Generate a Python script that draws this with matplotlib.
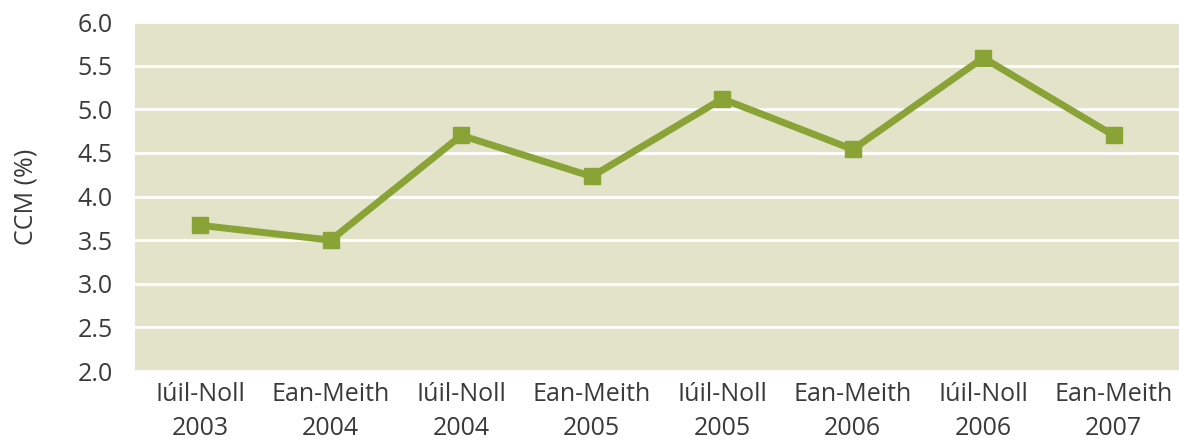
import matplotlib.pyplot as plt
import numpy as np

periods = ['Iúil-Noll\n2003', 'Ean-Meith\n2004', 'Iúil-Noll\n2004', 'Ean-Meith\n2005',
           'Iúil-Noll\n2005', 'Ean-Meith\n2006', 'Iúil-Noll\n2006', 'Ean-Meith\n2007']
ccm = [3.67, 3.50, 4.70, 4.23, 5.12, 4.54, 5.59, 4.70]
yticks = [2.0, 2.5, 3.0, 3.5, 4.0, 4.5, 5.0, 5.5, 6.0]

plt.rcParams['font.family'] = ['Open Sans', 'DejaVu Sans']
text_col = '#3a3a3a'

fig = plt.figure(figsize=(11.79, 4.41), dpi=100)
ax = fig.add_axes([0.1145, 0.1587, 0.8855, 0.7913])
ax.set_facecolor('#e3e3c9')

x = np.arange(len(periods))
ax.plot(x, ccm, color='#8aa337', linewidth=5, marker='s', markersize=11.5, zorder=3)

ax.set_xlim(-0.5, len(periods) - 0.5)
ax.set_ylim(2.0, 6.0)
ax.set_yticks(yticks)
ax.set_yticklabels(['%.1f' % v for v in yticks])
ax.set_xticks(x)
ax.set_xticklabels(periods, linespacing=1.45)
ax.yaxis.grid(True, color='white', linewidth=2)
ax.set_axisbelow(True)
for s in ax.spines.values():
    s.set_visible(False)
ax.tick_params(length=0, labelsize=18, colors=text_col)
ax.tick_params(axis='y', pad=16)
ax.tick_params(axis='x', pad=8)
ax.set_ylabel('CCM (%)', fontsize=18, color=text_col, labelpad=28)

fig.savefig('out.png', dpi=100)
